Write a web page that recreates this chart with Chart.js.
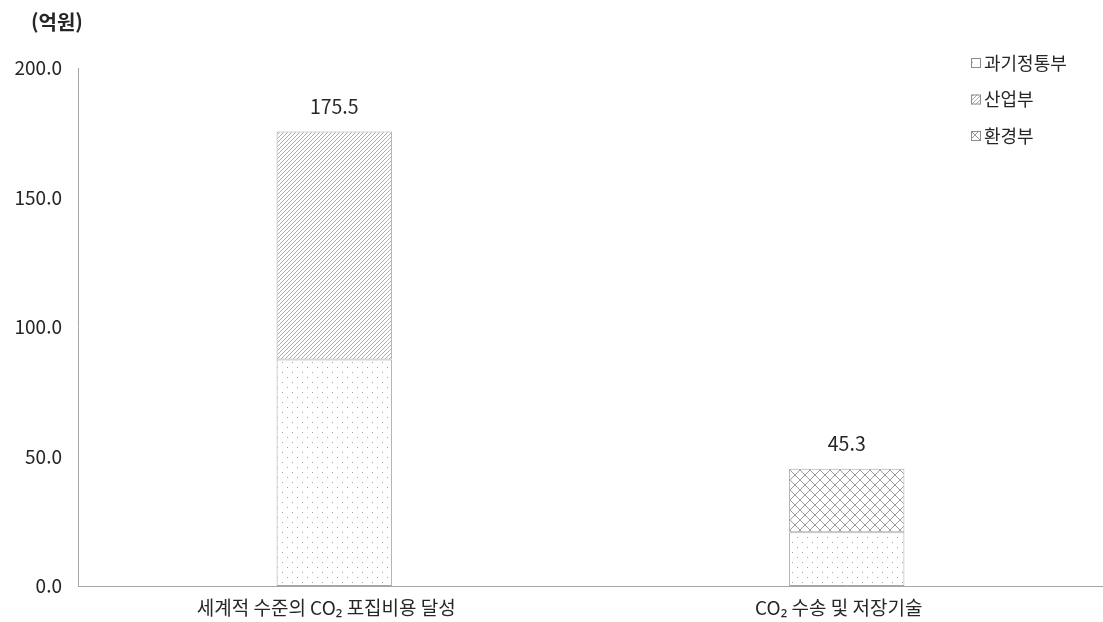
<!DOCTYPE html>
<html lang="ko">
<head>
<meta charset="utf-8">
<script src="https://cdn.jsdelivr.net/npm/chart.js@4"></script>
<style>
  html, body { margin: 0; padding: 0; background: #ffffff; }
  #wrap { width: 1103px; height: 622px; }
</style>
</head>
<body>
<div id="wrap"><canvas id="c" width="1103" height="622"></canvas></div>
<script>
// 부처별 CO2 포집·저장 기술 투자 (단위: 억원)
const categories = ['세계적 수준의 CO₂ 포집비용 달성', 'CO₂ 수송 및 저장기술'];
const seriesNames = ['과기정통부', '산업부', '환경부'];
const msitValues = [87.5, 20.8];   // 과기정통부
const motieValues = [88.0, null];  // 산업부
const meValues = [null, 24.5];     // 환경부
const yTicks = [0, 50, 100, 150, 200];
const unitLabel = '(억원)';

const FONT = '"Noto Sans CJK KR", "Noto Sans", sans-serif';
const TEXT = '#262626';
const LINE = '#a6a6a6';

// 막대 채움 무늬
function makePattern(kind) {
  const c = document.createElement('canvas');
  const g = c.getContext('2d');
  if (kind === 'dots') {
    c.width = 10; c.height = 10;
    g.fillStyle = '#ffffff'; g.fillRect(0, 0, 10, 10);
    g.fillStyle = '#a0a0a0';
    g.fillRect(2, 2, 1, 1);
    g.fillRect(7, 7, 1, 1);
  } else if (kind === 'diag') {
    c.width = 4; c.height = 4;
    g.fillStyle = '#ffffff'; g.fillRect(0, 0, 4, 4);
    g.strokeStyle = '#acacac'; g.lineWidth = 1;
    g.beginPath();
    g.moveTo(-1, 5); g.lineTo(5, -1);
    g.moveTo(-1, 1); g.lineTo(1, -1);
    g.moveTo(3, 5); g.lineTo(5, 3);
    g.stroke();
  } else {
    c.width = 10; c.height = 10;
    g.fillStyle = '#ffffff'; g.fillRect(0, 0, 10, 10);
    g.strokeStyle = '#9c9c9c'; g.lineWidth = 1;
    g.beginPath();
    g.moveTo(0, 0); g.lineTo(10, 10);
    g.moveTo(10, 0); g.lineTo(0, 10);
    g.stroke();
  }
  return g.createPattern(c, 'repeat');
}

const patterns = [makePattern('dots'), makePattern('diag'), makePattern('cross')];

// 오른쪽 위 범례
const legendRows = [63, 99.5, 136];
const legendPlugin = {
  id: 'boxLegend',
  afterDraw(chart) {
    const ctx = chart.ctx;
    ctx.save();
    ctx.font = '18px ' + FONT;
    ctx.textBaseline = 'middle';
    chart.data.datasets.forEach((ds, i) => {
      const y = legendRows[i];
      ctx.fillStyle = ds.backgroundColor;
      ctx.fillRect(971, y - 5, 10, 10);
      ctx.strokeStyle = '#8c8c8c';
      ctx.lineWidth = 1;
      ctx.strokeRect(971.5, y - 4.5, 9, 9);
      ctx.fillStyle = TEXT;
      ctx.textAlign = 'left';
      ctx.fillText(ds.label, 984, y);
    });
    ctx.restore();
  }
};

// 단위 표시와 막대 합계 표시
const labelPlugin = {
  id: 'totals',
  afterDatasetsDraw(chart) {
    const ctx = chart.ctx;
    const xs = chart.scales.x, ys = chart.scales.y;
    ctx.save();
    ctx.fillStyle = TEXT;
    ctx.font = 'bold 20px ' + FONT;
    ctx.textAlign = 'left';
    ctx.textBaseline = 'middle';
    ctx.fillText(unitLabel, 31, 22);
    ctx.font = '19.5px ' + FONT;
    ctx.textAlign = 'center';
    categories.forEach((cat, i) => {
      const total = chart.data.datasets.reduce((s, ds) => s + (ds.data[i] || 0), 0);
      const x = xs.getPixelForValue(i);
      const y = ys.getPixelForValue(total);
      ctx.fillText(total.toFixed(1), x, y - 25);
    });
    ctx.restore();
  }
};

new Chart(document.getElementById('c'), {
  type: 'bar',
  data: {
    labels: categories,
    datasets: [
      { label: seriesNames[0], data: msitValues, backgroundColor: patterns[0] },
      { label: seriesNames[1], data: motieValues, backgroundColor: patterns[1] },
      { label: seriesNames[2], data: meValues, backgroundColor: patterns[2] }
    ].map(d => Object.assign(d, {
      borderColor: LINE,
      borderWidth: 1,
      borderSkipped: false,
      categoryPercentage: 1,
      barPercentage: 0.225
    }))
  },
  options: {
    responsive: false,
    animation: false,
    devicePixelRatio: 1,
    layout: { padding: { top: 68, left: 0, right: 0, bottom: 0 } },
    plugins: {
      legend: { display: false },
      tooltip: { enabled: false },
      title: { display: false }
    },
    scales: {
      x: {
        stacked: true,
        grid: { display: false, drawTicks: false },
        border: { display: true, color: LINE, width: 1 },
        ticks: { color: TEXT, font: { family: FONT, size: 19 }, padding: 10, maxRotation: 0, labelOffset: -8 },
        afterFit(s) { s.height = 36; }
      },
      y: {
        stacked: true,
        min: 0,
        max: 200,
        grid: { display: false, drawTicks: false },
        border: { display: true, color: LINE, width: 1 },
        afterBuildTicks(s) { s.ticks = yTicks.map(v => ({ value: v })); },
        ticks: {
          color: TEXT,
          font: { family: FONT, size: 19 },
          padding: 16,
          callback: v => Number(v).toFixed(1)
        },
        afterFit(s) { s.width = 78; }
      }
    }
  },
  plugins: [labelPlugin, legendPlugin]
});
</script>
</body>
</html>
